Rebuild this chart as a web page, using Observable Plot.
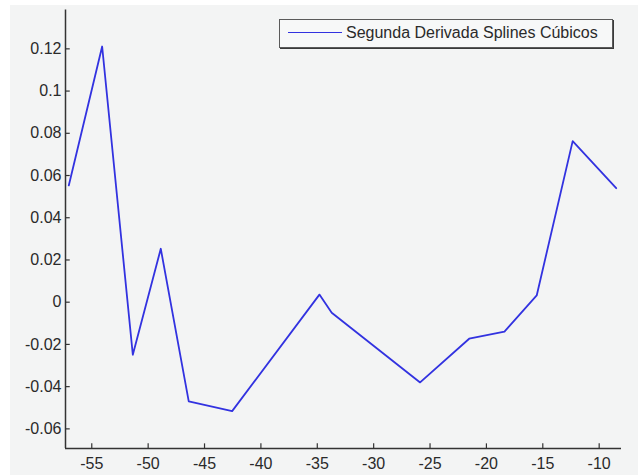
<!DOCTYPE html>
<html>
<head>
<meta charset="utf-8">
<script src="https://cdn.jsdelivr.net/npm/d3@7"></script>
<script src="https://cdn.jsdelivr.net/npm/@observablehq/plot@0.6"></script>
<style>
  html, body { margin: 0; padding: 0; background: #ffffff; }
  #wrap { position: relative; width: 638px; height: 475px; overflow: hidden; background: #ffffff; }
  #panel { position: absolute; left: 10px; top: 5px; right: 0; bottom: 0; background: #f3f4f4; }
  #chart { position: absolute; left: 0; top: 0; }
  #legend {
    position: absolute; left: 279px; top: 19px; width: 332px; height: 27px;
    background: #f7f8f8; border: 1.5px solid #5a5a5a; box-shadow: 1px 1px 0 #3a3a3a;
    font-family: "Liberation Sans", Arial, sans-serif; font-size: 16px; color: #2a2a2a;
  }
  #legend .swatch { position: absolute; left: 8px; top: 12px; width: 54px; height: 0; border-top: 1.7px solid #3232e0; }
  #legend .label { position: absolute; left: 66px; top: 4px; white-space: nowrap; }
</style>
</head>
<body>
<div id="wrap">
  <div id="panel"></div>
  <div id="chart"></div>
  <div id="legend"><span class="swatch"></span><span class="label"></span></div>
</div>
<script>
// Second derivative of the cubic spline at each knot
const knotX = [-57.04, -54.08, -51.36, -48.88, -46.40, -42.55, -34.81, -33.72, -25.88, -21.53, -18.40, -15.54, -12.35, -8.49];
const secondDeriv = [0.0553, 0.1211, -0.0249, 0.0253, -0.0470, -0.0516, 0.0036, -0.0050, -0.0380, -0.0173, -0.0139, 0.0032, 0.0763, 0.0540];

const xTicks = [-55, -50, -45, -40, -35, -30, -25, -20, -15, -10];
const yTicks = [-0.06, -0.04, -0.02, 0, 0.02, 0.04, 0.06, 0.08, 0.1, 0.12];
const xDomain = [-57.33, -8.02];
const yDomain = [-0.0693, 0.1384];
const seriesName = "Segunda Derivada Splines Cúbicos";

const points = knotX.map((x, i) => ({x, y: secondDeriv[i]}));
const axisColor = "#333333";
const fmt = d => String(d);

const chart = Plot.plot({
  width: 638,
  height: 475,
  marginLeft: 65,
  marginRight: 17,
  marginTop: 9.5,
  marginBottom: 27,
  style: {background: "transparent", fontFamily: "'Liberation Sans', Arial, sans-serif", fontSize: "16px", color: "#2a2a2a"},
  x: {domain: xDomain},
  y: {domain: yDomain},
  marks: [
    // tick labels
    Plot.axisX(xTicks, {tickSize: 0, tickPadding: 9, tickFormat: fmt, label: null, fill: "#2a2a2a"}),
    Plot.axisY(yTicks, {tickSize: 0, tickPadding: 4, tickFormat: fmt, label: null, fill: "#2a2a2a"}),
    // inward tick marks
    Plot.ruleX(xTicks, {x: d => d, y1: yDomain[0], y2: yDomain[0] + 0.0022, stroke: axisColor, strokeWidth: 1.2}),
    Plot.ruleY(yTicks, {y: d => d, x1: xDomain[0], x2: xDomain[0] + 0.42, stroke: axisColor, strokeWidth: 1.2}),
    // axis lines
    Plot.ruleX([xDomain[0]], {stroke: axisColor, strokeWidth: 1.5}),
    Plot.ruleY([yDomain[0]], {stroke: axisColor, strokeWidth: 1.5}),
    Plot.line(points, {x: "x", y: "y", stroke: "#3232e0", strokeWidth: 1.8})
  ]
});
document.getElementById("chart").appendChild(chart);
document.querySelector("#legend .label").textContent = seriesName;
</script>
</body>
</html>
